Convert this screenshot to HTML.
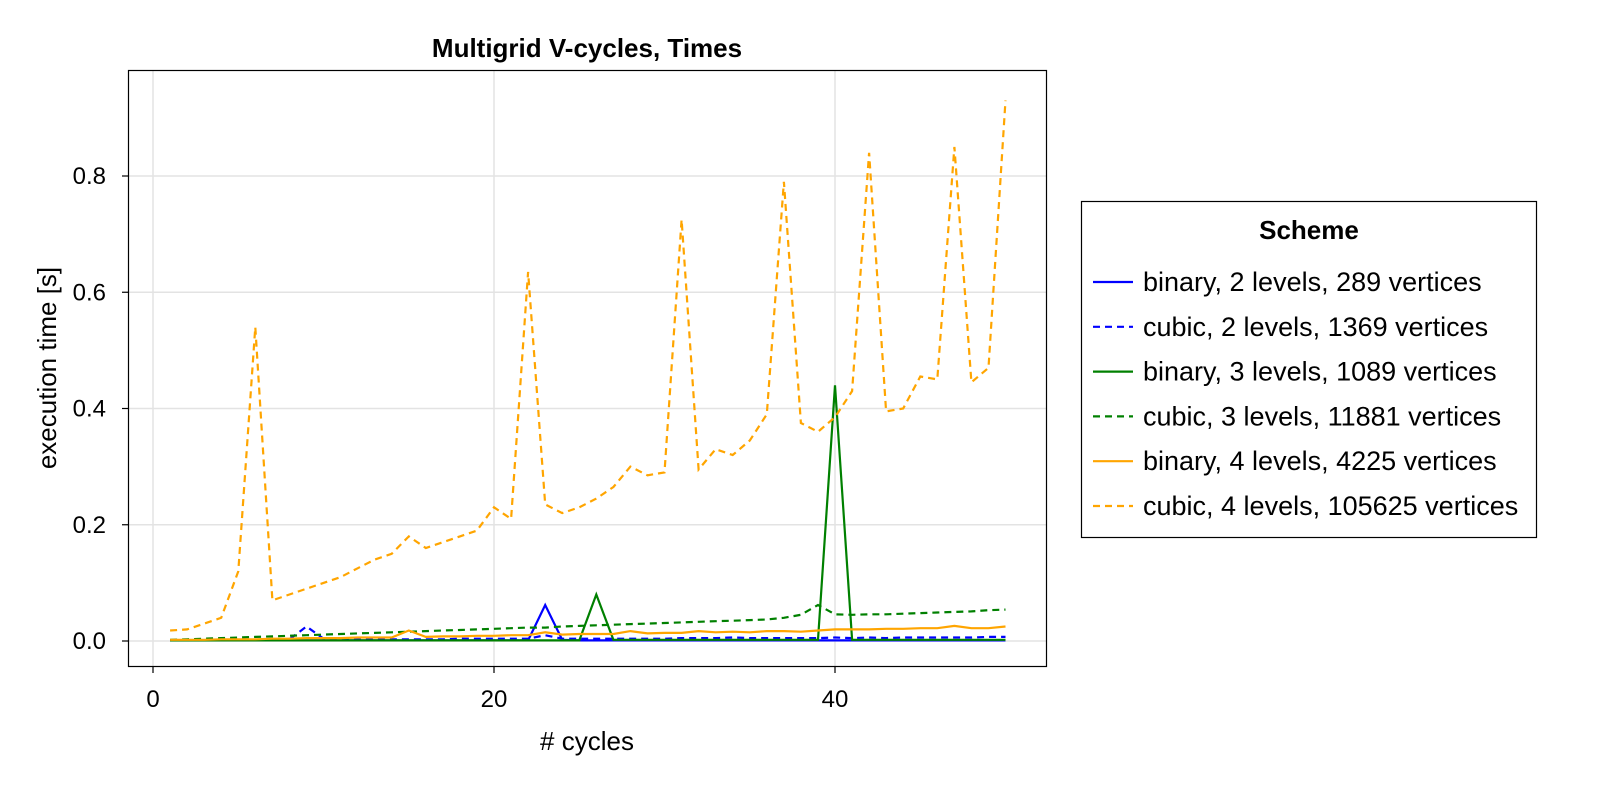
<!DOCTYPE html>
<html><head><meta charset="utf-8"><style>
body{margin:0;background:#fff;}
svg text{font-family:"Liberation Sans",Arial,sans-serif;}
</style></head><body>
<svg id="chart" width="1600" height="800" xmlns="http://www.w3.org/2000/svg">
<rect width="1600" height="800" fill="#fff"/>
<g id="grid"></g>
<g id="series"></g>
<rect x="128.5" y="70.5" width="918" height="596" fill="none" stroke="#000" stroke-width="1.2"/>
<g id="axes"></g>
<text x="587" y="57" text-anchor="middle" font-size="26" font-weight="bold">Multigrid V-cycles, Times</text>
<text x="587" y="750" text-anchor="middle" font-size="26"># cycles</text>
<text transform="translate(56,368) rotate(-90)" text-anchor="middle" font-size="26">execution time [s]</text>
<g id="legend">
<rect x="1081.5" y="201.5" width="455" height="336" fill="#fff" stroke="#000" stroke-width="1.2"/>
<text x="1309" y="239" text-anchor="middle" font-size="26" font-weight="bold">Scheme</text>
</g>
</svg>
<script>
const xTicks=[0,20,40];
const yTicks=[0.0,0.2,0.4,0.6,0.8];
const yTickLabels=["0.0","0.2","0.4","0.6","0.8"];
const cycles=[1,2,3,4,5,6,7,8,9,10,11,12,13,14,15,16,17,18,19,20,21,22,23,24,25,26,27,28,29,30,31,32,33,34,35,36,37,38,39,40,41,42,43,44,45,46,47,48,49,50];
const binary2=[0.001,0.001,0.001,0.001,0.001,0.001,0.001,0.001,0.001,0.001,0.001,0.001,0.001,0.001,0.001,0.001,0.001,0.001,0.001,0.001,0.001,0.001,0.062,0.002,0.001,0.001,0.001,0.001,0.001,0.001,0.001,0.001,0.001,0.001,0.001,0.001,0.001,0.001,0.001,0.001,0.001,0.001,0.001,0.001,0.001,0.001,0.001,0.001,0.001,0.001];
const cubic2=[0.001,0.001,0.001,0.002,0.002,0.002,0.003,0.003,0.025,0.004,0.003,0.003,0.003,0.003,0.003,0.003,0.003,0.004,0.004,0.004,0.004,0.004,0.01,0.004,0.004,0.004,0.004,0.004,0.004,0.004,0.005,0.005,0.005,0.006,0.005,0.005,0.005,0.005,0.005,0.006,0.005,0.006,0.005,0.006,0.006,0.006,0.006,0.006,0.007,0.007];
const binary3=[0.001,0.001,0.001,0.001,0.001,0.001,0.001,0.001,0.001,0.001,0.001,0.001,0.001,0.001,0.001,0.001,0.001,0.001,0.001,0.001,0.001,0.001,0.001,0.001,0.001,0.08,0.002,0.002,0.002,0.002,0.002,0.002,0.002,0.002,0.002,0.002,0.002,0.002,0.002,0.44,0.002,0.002,0.002,0.002,0.002,0.002,0.002,0.002,0.002,0.002];
const cubic3=[0.002,0.003,0.004,0.005,0.006,0.007,0.008,0.009,0.01,0.011,0.012,0.013,0.014,0.015,0.016,0.017,0.018,0.019,0.02,0.021,0.022,0.023,0.023,0.025,0.026,0.027,0.028,0.029,0.03,0.031,0.032,0.033,0.034,0.035,0.036,0.037,0.04,0.045,0.062,0.046,0.045,0.046,0.046,0.047,0.048,0.049,0.05,0.051,0.053,0.054];
const binary4=[0.002,0.002,0.002,0.003,0.003,0.003,0.004,0.004,0.005,0.005,0.005,0.006,0.006,0.006,0.018,0.007,0.008,0.008,0.009,0.009,0.01,0.01,0.015,0.011,0.012,0.012,0.012,0.017,0.013,0.014,0.014,0.017,0.015,0.016,0.015,0.017,0.017,0.016,0.018,0.02,0.02,0.02,0.021,0.021,0.022,0.022,0.026,0.022,0.022,0.025];
const cubic4=[0.018,0.02,0.03,0.04,0.12,0.54,0.07,0.08,0.09,0.1,0.11,0.125,0.14,0.15,0.18,0.16,0.17,0.18,0.19,0.23,0.21,0.635,0.235,0.22,0.23,0.245,0.265,0.3,0.285,0.29,0.725,0.295,0.33,0.32,0.345,0.39,0.79,0.375,0.36,0.385,0.43,0.84,0.395,0.4,0.455,0.45,0.85,0.445,0.47,0.93];
const seriesNames=["binary, 2 levels, 289 vertices","cubic, 2 levels, 1369 vertices","binary, 3 levels, 1089 vertices","cubic, 3 levels, 11881 vertices","binary, 4 levels, 4225 vertices","cubic, 4 levels, 105625 vertices"];
const seriesData=[binary2,cubic2,binary3,cubic3,binary4,cubic4];
const seriesColors=["#0000ff","#0000ff","#008000","#008000","#ffa500","#ffa500"];
const seriesDash=[false,true,false,true,false,true];
const seriesIds=["binary-2-levels","cubic-2-levels","binary-3-levels","cubic-3-levels","binary-4-levels","cubic-4-levels"];

const NS="http://www.w3.org/2000/svg";
const xs=v=>153+v*17.05;
const ys=v=>641-v*581.25;
function mk(tag,attrs,parent){const e=document.createElementNS(NS,tag);for(const k in attrs)e.setAttribute(k,attrs[k]);parent.appendChild(e);return e;}
const grid=document.getElementById('grid'),axes=document.getElementById('axes'),ser=document.getElementById('series'),leg=document.getElementById('legend');
xTicks.forEach(t=>{
 const l=mk('line',{x1:xs(t),x2:xs(t),y1:71,y2:666,stroke:'#e3e3e3','stroke-width':1.5},grid);
 
 
 const tk=mk('line',{x1:xs(t),x2:xs(t),y1:667,y2:673,stroke:'#000','stroke-width':1.2},axes);
 
 
 const tx=mk('text',{x:xs(t),y:707,'text-anchor':'middle','font-size':24},axes);tx.textContent=t;
 
 
});
yTicks.forEach((t,i)=>{
 const l=mk('line',{x1:129,x2:1046,y1:ys(t),y2:ys(t),stroke:'#e3e3e3','stroke-width':1.5},grid);
 
 
 const tk=mk('line',{x1:122,x2:128,y1:ys(t),y2:ys(t),stroke:'#000','stroke-width':1.2},axes);
 
 
 const tx=mk('text',{x:106,y:ys(t)+8,'text-anchor':'end','font-size':24},axes);tx.textContent=yTickLabels[i];
 
 
});
seriesData.forEach((d,s)=>{
 const pts=d.map((v,i)=>xs(cycles[i]).toFixed(1)+','+ys(v).toFixed(1)).join(' ');
 const a={points:pts,fill:'none',stroke:seriesColors[s],'stroke-width':2.2,'stroke-linejoin':'miter'};
 if(seriesDash[s])a['stroke-dasharray']='7 5';
 const p=mk('polyline',a,ser);
 
 
 const y=282+s*44.8;
 const la={x1:1093,x2:1133,y1:y,y2:y,stroke:seriesColors[s],'stroke-width':2.2};
 if(seriesDash[s])la['stroke-dasharray']='7 5';
 const g=mk('g',{},leg);
 
 
 mk('line',la,g);
 const t=mk('text',{x:1143,y:y+9,'font-size':27},g);t.textContent=seriesNames[s];
});
</script>
</body></html>
